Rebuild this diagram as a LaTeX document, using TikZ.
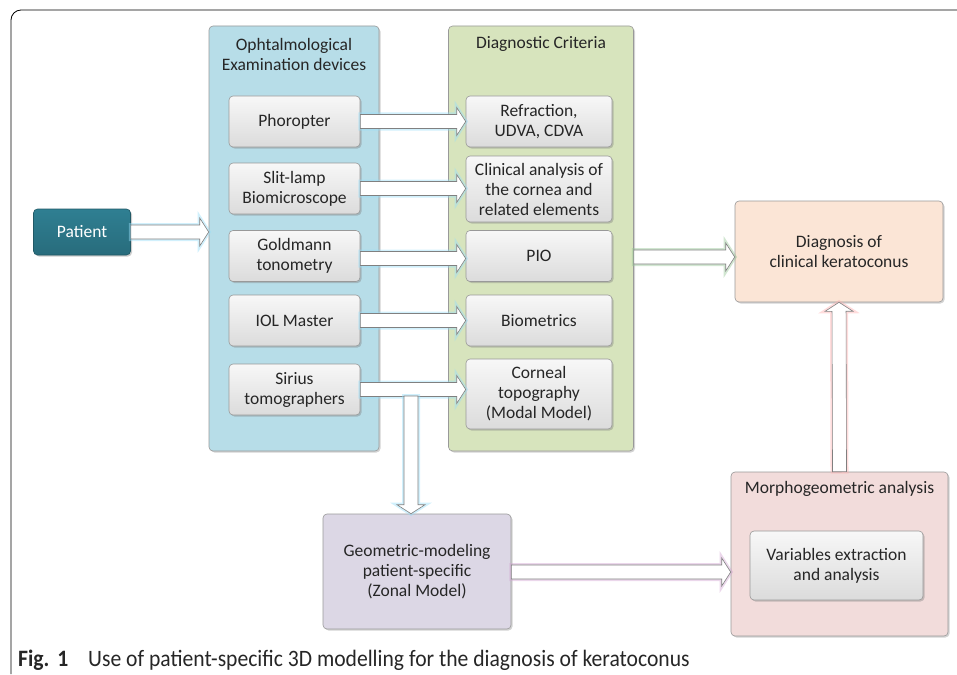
\documentclass[tikz,border=0pt]{standalone}
\usepackage{fontspec}
\setmainfont{Carlito}
\newfontfamily\capfont[FakeStretch=0.92]{Carlito}
\usetikzlibrary{calc,positioning,shadows}

\definecolor{patientc}{HTML}{2F7F92}
\definecolor{devblue}{HTML}{B7DDE8}
\definecolor{critgreen}{HTML}{D7E4BD}
\definecolor{diagc}{HTML}{FBE5D6}
\definecolor{morphc}{HTML}{F2DCDB}
\definecolor{geoc}{HTML}{DCD7E5}
\definecolor{txt}{HTML}{262626}

% fat hollow arrow between two points
\newcommand{\fatarrow}[3]{%
  \draw[hollowarrow=#1] let \p1=#2, \p2=#3,
    \n1={atan2(\y2-\y1,\x2-\x1)}, \n2={veclen(\x2-\x1,\y2-\y1)} in
    [shift={(\p1)}, rotate=\n1]
    (0pt,-7pt) -- (\n2-9pt,-7pt) -- (\n2-9pt,-14pt) -- (\n2,0pt)
    -- (\n2-9pt,14pt) -- (\n2-9pt,7pt) -- (0pt,7pt) -- cycle;}

\begin{document}
\begin{tikzpicture}[x=1pt, y=-1pt, font=\fontsize{17.5}{20}\selectfont, text=txt,
  panel/.style={rectangle, rounded corners=4pt, draw=black!40, line width=0.6pt,
    drop shadow={shadow xshift=1.5pt, shadow yshift=-1.5pt, opacity=.35}},
  item/.style={rectangle, rounded corners=4pt, draw=black!40, line width=0.6pt,
    top color=black!3, bottom color=black!14, align=center,
    drop shadow={shadow xshift=1.5pt, shadow yshift=-1.5pt, opacity=.4}},
  devitem/.style={item, minimum width=131pt, minimum height=51pt},
  crititem/.style={item, minimum width=146pt, minimum height=51pt},
  hollowarrow/.style={draw=black!50, fill=white, line width=0.6pt,
    preaction={draw=#1, line width=4pt, opacity=.45}}]

  \useasboundingbox (0,0) rectangle (957,674);
  \draw[line width=0.8pt, rounded corners=10pt] (11,674) -- (11,10) -- (957,10);

  % columns
  \node[panel, fill=devblue, minimum width=170pt, minimum height=425pt] (devices) at (294,238.5) {};
  \node[align=center] (devtitle) at (294,54) {Ophtalmological\\Examination devices};
  \node[panel, fill=critgreen, minimum width=185pt, minimum height=425pt] (criteria) at (541,238.5) {};
  \node (crittitle) at (541,44) {Diagnostic Criteria};

  % devices
  \node[devitem] (phoropter) at (294.5,121.5) {Phoropter};
  \node[devitem, below of=phoropter, node distance=67pt] (slitlamp) {Slit-lamp\\Biomicroscope};
  \node[devitem, below of=slitlamp, node distance=67.5pt] (goldmann) {Goldmann\\tonometry};
  \node[devitem, below of=goldmann, node distance=64.5pt] (iol) {IOL Master};
  \node[devitem, below of=iol, node distance=69pt] (sirius) {Sirius\\tomographers};

  % criteria
  \node[crititem] (refraction) at (539,121.5) {Refraction,\\UDVA, CDVA};
  \node[crititem, minimum height=66pt, below of=refraction, node distance=67.5pt] (clinical) {Clinical analysis of\\the cornea and\\related elements};
  \node[crititem, below of=clinical, node distance=67pt] (pio) {PIO};
  \node[crititem, below of=pio, node distance=64.5pt] (biometrics) {Biometrics};
  \node[crititem, minimum height=70pt, below of=biometrics, node distance=73.5pt] (topography) {Corneal\\topography\\(Modal Model)};

  % left and right
  \node[item, top color=patientc, bottom color=patientc!85!black, draw=patientc!70!black,
    text=white, minimum width=97pt, minimum height=46pt] (patient) at (82,232) {Patient};
  \node[panel, fill=diagc, align=center, minimum width=208pt, minimum height=101pt] (diagnosis) at (839,251.5) {Diagnosis of\\clinical keratoconus};
  \node[panel, fill=morphc, minimum width=217pt, minimum height=164pt] (morpho) at (839.5,554) {};
  \node (morphtitle) at (839.5,489) {Morphogeometric analysis};
  \node[item, minimum width=173pt, minimum height=69pt] (variables) at (836.5,565.5) {Variables extraction\\and analysis};
  \node[panel, fill=geoc, align=center, minimum width=188pt, minimum height=115pt] (geometric) at (417,571.5) {Geometric-modeling\\patient-specific\\(Zonal Model)};

  % arrows
  \fatarrow{cyan!40}{(patient.east)}{(devices.west |- patient.east)}
  \fatarrow{cyan!40}{(phoropter.east)}{(refraction.west)}
  \fatarrow{cyan!40}{(slitlamp.east)}{(clinical.west |- slitlamp.east)}
  \fatarrow{cyan!40}{([yshift=-2.5pt]goldmann.east)}{([yshift=-2.5pt]pio.west)}
  \fatarrow{cyan!40}{(iol.east)}{(biometrics.west)}
  \fatarrow{cyan!40}{(sirius.east)}{(topography.west |- sirius.east)}
  \coordinate (split) at (411,396);
  \fatarrow{cyan!40}{(split)}{(split |- geometric.north)}
  \fatarrow{green!45!black!40}{(criteria.east |- 0,257)}{(diagnosis.west |- 0,257)}
  \fatarrow{violet!35}{(geometric.east |- 0,572)}{(morpho.west |- 0,572)}
  \fatarrow{red!30}{(morpho.north)}{(diagnosis.south)}

  % caption
  \node[anchor=base west, inner sep=0pt, font=\capfont\fontsize{23.5}{26}\selectfont] (caption) at (18,666)
    {\textbf{Fig.\,\,1}\hspace{0.85em}Use of patient-specific 3D modelling for the diagnosis of keratoconus};
\end{tikzpicture}
\end{document}
